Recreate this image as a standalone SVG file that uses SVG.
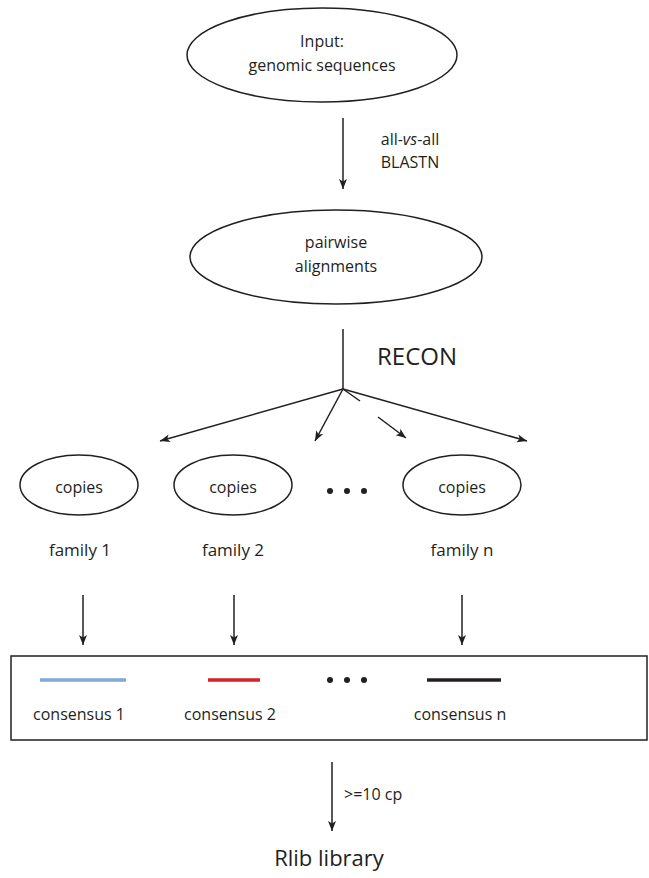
<svg xmlns="http://www.w3.org/2000/svg" width="649" height="878" viewBox="0 0 649 878">
<style>
text{font-family:"Open Sans","Liberation Sans",sans-serif;fill:#231f20;font-size:16px;text-anchor:middle}
text.f{font-size:17px}
text.big{font-size:24px;text-anchor:start}
text.lib{font-size:22px}
.n{fill:#fff;stroke:#231f20;stroke-width:1.5}
.c{stroke:#231f20;stroke-width:1.5;fill:none}
.a{marker-end:url(#ah)}
</style>
<defs>
<marker id="ah" markerWidth="10" markerHeight="12" viewBox="0 0 10 12" refX="10" refY="5" orient="auto" markerUnits="userSpaceOnUse">
<path d="M0,1 L10,5 L0,9 L2.5,5 Z" fill="#231f20"/>
</marker>
</defs>
<rect width="649" height="878" fill="#fff"/>
<g id="connectors">
<line class="c a" x1="343" y1="118" x2="343" y2="189"/>
<line class="c" x1="343" y1="329" x2="343" y2="389"/>
<line class="c a" x1="343" y1="389" x2="160" y2="441"/>
<line class="c a" x1="343" y1="389" x2="315" y2="441"/>
<line class="c" x1="343" y1="389" x2="360" y2="401"/>
<line class="c a" x1="378" y1="417" x2="406" y2="438"/>
<line class="c a" x1="343" y1="389" x2="527" y2="441"/>
<line class="c a" x1="83" y1="595" x2="83" y2="645"/>
<line class="c a" x1="234" y1="595" x2="234" y2="645"/>
<line class="c a" x1="462" y1="595" x2="462" y2="645"/>
<line class="c a" x1="332" y1="762" x2="332" y2="831"/>
</g>
<g id="input">
<ellipse class="n" cx="322" cy="55" rx="135" ry="47"/>
<text x="322" y="47">Input:</text>
<text x="322" y="71">genomic sequences</text>
</g>
<text x="410" y="145">all-<tspan font-style="italic">vs</tspan>-all</text>
<text x="410" y="168">BLASTN</text>
<g id="pairwise">
<ellipse class="n" cx="336" cy="257" rx="146" ry="47"/>
<text x="336" y="248">pairwise</text>
<text x="336" y="272">alignments</text>
</g>
<text class="big" x="377" y="365">RECON</text>
<g id="family1">
<ellipse class="n" cx="79" cy="485" rx="59" ry="30"/>
<text x="79" y="493">copies</text>
<text class="f" x="80" y="556">family 1</text>
</g>
<g id="family2">
<ellipse class="n" cx="233" cy="485" rx="59" ry="30"/>
<text x="233" y="493">copies</text>
<text class="f" x="233" y="556">family 2</text>
</g>
<g id="dots1" fill="#231f20">
<circle cx="330" cy="491" r="3"/>
<circle cx="347" cy="491" r="3"/>
<circle cx="364" cy="491" r="3"/>
</g>
<g id="familyn">
<ellipse class="n" cx="462" cy="485" rx="59" ry="30"/>
<text x="462" y="493">copies</text>
<text class="f" x="462" y="556">family n</text>
</g>
<g id="consensus">
<rect x="11" y="656" width="636" height="84" fill="none" stroke="#231f20" stroke-width="1.5"/>
<line x1="40" y1="680" x2="126" y2="680" stroke="#7fa9db" stroke-width="3.5"/>
<line x1="208" y1="680" x2="260" y2="680" stroke="#d7202a" stroke-width="3.5"/>
<line x1="427" y1="680" x2="501" y2="680" stroke="#231f20" stroke-width="3.5"/>
<circle cx="330" cy="680" r="3" fill="#231f20"/>
<circle cx="347" cy="680" r="3" fill="#231f20"/>
<circle cx="364" cy="680" r="3" fill="#231f20"/>
<text x="79" y="720">consensus 1</text>
<text x="230" y="720">consensus 2</text>
<text x="460" y="720">consensus n</text>
</g>
<text x="344" y="800" style="text-anchor:start">&gt;=10 cp</text>
<g id="rlib">
<text class="lib" x="329" y="866">Rlib library</text>
</g>
</svg>
